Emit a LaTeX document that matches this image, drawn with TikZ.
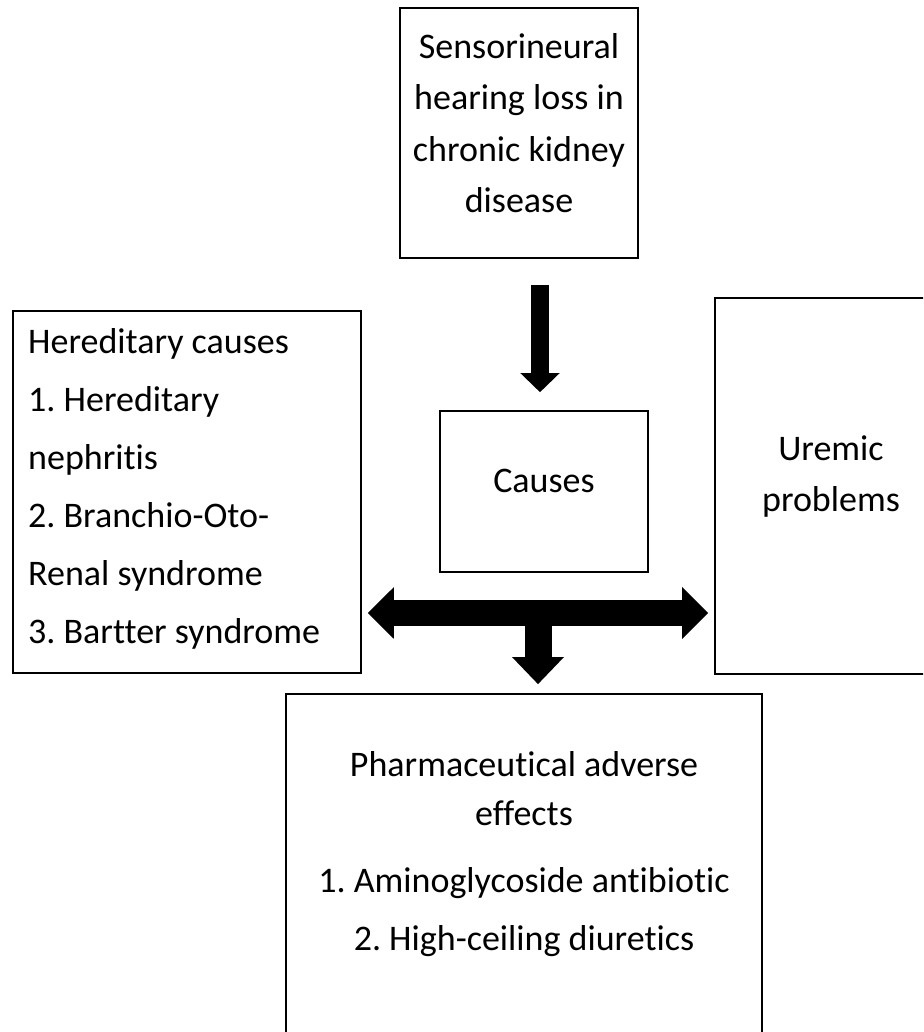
\documentclass[tikz,border=0pt]{standalone}
\usepackage{fontspec}
\setmainfont[Ligatures={NoCommon}]{Carlito}
\frenchspacing
\usetikzlibrary{arrows.meta,calc}
\tikzset{
  boxnode/.style={draw=black, line width=1.6pt, rectangle, inner sep=0pt},
  txt/.style={anchor=base, inner sep=0pt, font=\fontsize{36}{40}\selectfont},
  txtl/.style={anchor=base west, inner sep=0pt, font=\fontsize{36}{40}\selectfont},
  fatdown/.style={line width=18pt, -{Triangle[width=38pt,length=19pt]}},
  fatboth/.style={line width=26pt, {Triangle[width=50pt,length=26pt]}-{Triangle[width=50pt,length=26pt]}},
  fatstem/.style={line width=27pt, -{Triangle[width=50pt,length=27pt]}}
}
\begin{document}
\begin{tikzpicture}[x=1pt,y=-1pt]
\useasboundingbox (0,0) rectangle (923,1032);
\begin{scope}
\clip (0,0) rectangle (923,1032);
% boxes
\node[boxnode, minimum width=238pt, minimum height=250pt] (top) at (519,133) {};
\node[boxnode, minimum width=348pt, minimum height=362pt] (hered) at (187,492) {};
\node[boxnode, minimum width=208pt, minimum height=161pt] (causes) at (544,491.5) {};
\node[boxnode, minimum width=232pt, minimum height=376pt] (uremic) at (831,486) {};
\node[boxnode, minimum width=476pt, minimum height=350pt] (pharm) at (524,869) {};

% texts: top
\node[txt] (t1) at (519,59) {Sensorineural};
\node[txt] (t2) at (519,110) {hearing loss in};
\node[txt] (t3) at (519,162) {chronic kidney};
\node[txt] (t4) at (519,213) {disease};
% left
\node[txtl] (h1) at (28,353) {Hereditary causes};
\node[txtl] (h2) at (28,411) {1. Hereditary};
\node[txtl] (h3) at (28,469) {nephritis};
\node[txtl] (h4) at (28,527) {2. Branchio-Oto-};
\node[txtl] (h5) at (28,585) {Renal syndrome};
\node[txtl] (h6) at (28,643) {3. Bartter syndrome};
% causes
\node[txt] (c1) at (544,492) {Causes};
% uremic
\node[txt] (u1) at (831,460) {Uremic};
\node[txt] (u2) at (831,511) {problems};
% pharm
\node[txt] (p1) at (524,776) {Pharmaceutical adverse};
\node[txt] (p2) at (524,825) {effects};
\node[txt] (p3) at (524,892) {1. Aminoglycoside antibiotic};
\node[txt] (p4) at (524,950) {2. High-ceiling diuretics};

% arrows
\coordinate (hub) at (538,613);
\draw[fatdown] ($(top.south -| causes.north)+(-4,26)$) -- ($(causes.north)+(-4,-18)$);
\draw[fatboth] ($(hub -| hered.east)+(6,0)$) -- ($(hub -| uremic.west)+(-6,0)$);
\draw[fatstem] (hub) -- ($(hub |- pharm.north)+(0,-9)$);
\end{scope}
\end{tikzpicture}
\end{document}
